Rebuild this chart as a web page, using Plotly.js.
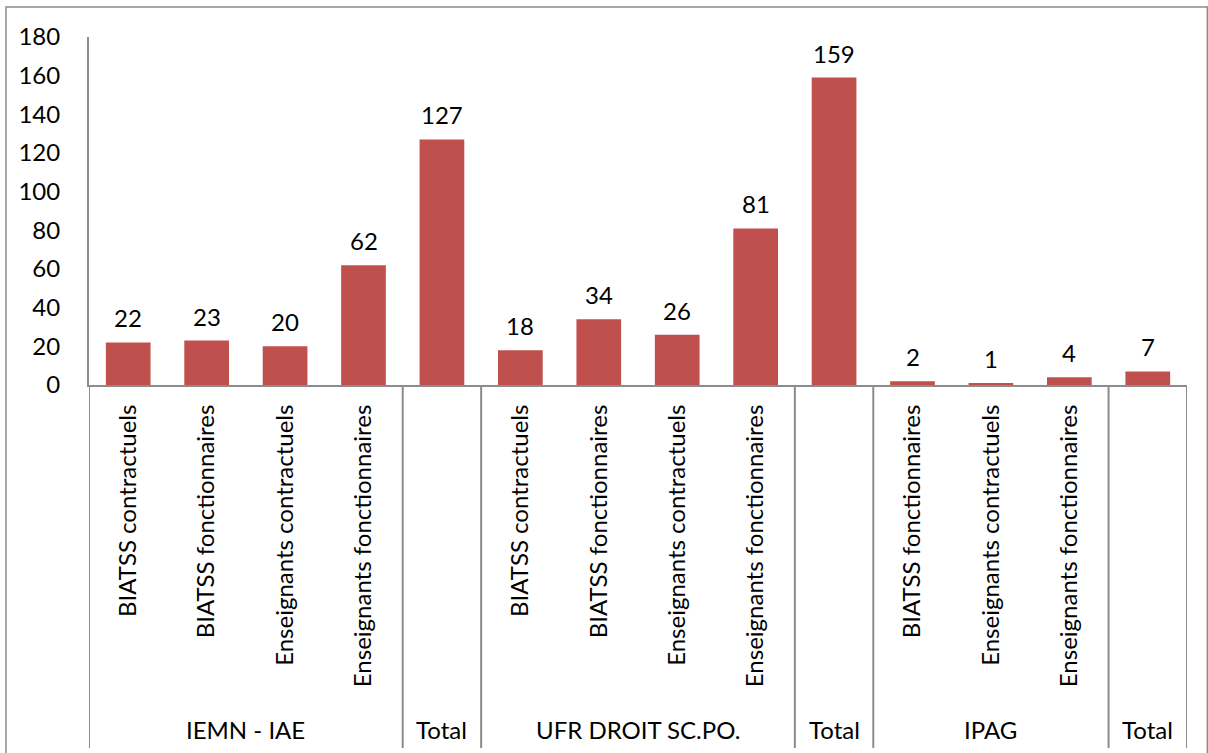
<!DOCTYPE html>
<html><head><meta charset="utf-8">
<script src="https://cdn.plot.ly/plotly-3.0.1.min.js"></script>
<style>html,body{margin:0;padding:0;background:#fff}#chart{width:1208px;height:753px}</style>
</head><body><div id="chart"></div>
<script>
const categories = ["BIATSS contractuels","BIATSS fonctionnaires","Enseignants contractuels","Enseignants fonctionnaires","",
  "BIATSS contractuels","BIATSS fonctionnaires","Enseignants contractuels","Enseignants fonctionnaires","",
  "BIATSS fonctionnaires","Enseignants contractuels","Enseignants fonctionnaires",""];
const groups = ["IEMN - IAE","Total","UFR DROIT SC.PO.","Total","IPAG","Total"];
const groupSizes = [4,1,4,1,3,1];
const values = [22,23,20,62,127,18,34,26,81,159,2,1,4,7];
const yTicks = [0,20,40,60,80,100,120,140,160,180];

const xIdx = values.map((v,i)=>i);
const FONT = "Lato, 'Open Sans', sans-serif";
const C = "#000";
const FS = 24;

const annotations = values.map((v,i)=>({x:i,y:v,xref:'x',yref:'y',text:String(v),showarrow:false,
  yanchor:'bottom',yshift:8,font:{family:FONT,size:FS,color:C}}));

const shapes = [];
const lineCol = "#8c8c8c";
shapes.push({type:'rect',xref:'paper',yref:'paper',x0:-0.0756,x1:1.0185,y0:-1.1,y1:1.0862,line:{color:lineCol,width:1.5}});
let start = 0;
const botY = -1.043;
shapes.push({type:'line',xref:'x',yref:'paper',x0:-0.5,x1:-0.5,y0:botY,y1:0,line:{color:lineCol,width:2}});
groups.forEach((g,k)=>{
  const end = start + groupSizes[k];
  shapes.push({type:'line',xref:'x',yref:'paper',x0:end-0.5,x1:end-0.5,y0:botY,y1:0,line:{color:lineCol,width:2}});
  annotations.push({x:(start+end-1)/2,y:-0.991,xref:'x',yref:'paper',text:g,showarrow:false,yanchor:'middle',
    font:{family:FONT,size:FS,color:C}});
  start = end;
});

Plotly.newPlot('chart',[{
  type:'bar',x:xIdx,y:values,marker:{color:'#C0504D'},hoverinfo:'none'
}],{
  width:1208,height:753,
  margin:{l:89,r:21,t:37,b:368},
  paper_bgcolor:'#fff',plot_bgcolor:'#fff',
  bargap:0.43,
  showlegend:false,
  font:{family:FONT,size:FS,color:C},
  xaxis:{range:[-0.5,13.5],tickvals:xIdx,ticktext:categories,tickangle:-90,showgrid:false,zeroline:false,
    showline:true,linecolor:lineCol,linewidth:2,ticks:'',ticklabelstandoff:8,tickfont:{family:FONT,size:FS,color:C}},
  yaxis:{range:[0,180],tickvals:yTicks,showgrid:false,zeroline:false,showline:true,linecolor:lineCol,linewidth:2,
    ticks:'',ticklabelstandoff:22,tickfont:{family:FONT,size:FS,color:C}},
  shapes:shapes,annotations:annotations
},{staticPlot:true});
</script></body></html>
